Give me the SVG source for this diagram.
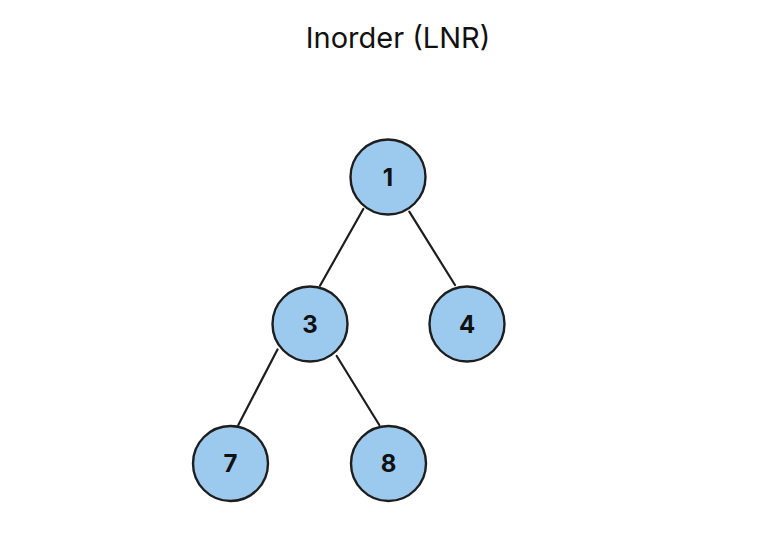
<svg xmlns="http://www.w3.org/2000/svg" width="767" height="543" viewBox="0 0 767 543">
<style>
.node circle{fill:#9ccaef;stroke:#1e1e1e;stroke-width:2.4}
.node text{font-family:Inter,"Liberation Sans",sans-serif;font-weight:700;font-size:24px;fill:#111;text-anchor:middle;dominant-baseline:central}
.edges line{stroke:#1e1e1e;stroke-width:2.2;stroke-linecap:round}
.title{font-family:Inter,"Liberation Sans",sans-serif;font-size:29px;fill:#111;text-anchor:middle}
</style>
<rect width="767" height="543" fill="#fff"/>
<text class="title" x="398" y="47.5">Inorder (LNR)</text>
<g class="edges">
<line x1="363.3" y1="209" x2="320" y2="285.7"/>
<line x1="409.3" y1="211.7" x2="455" y2="285"/>
<line x1="277.5" y1="349.5" x2="238.3" y2="425"/>
<line x1="336.7" y1="356" x2="379.3" y2="425"/>
</g>
<g id="n1" class="node"><circle cx="388" cy="177" r="37.5"/><text x="388" y="177">1</text></g>
<g id="n3" class="node"><circle cx="310" cy="324" r="37.5"/><text x="310" y="324">3</text></g>
<g id="n4" class="node"><circle cx="467" cy="324" r="37.5"/><text x="467" y="324">4</text></g>
<g id="n7" class="node"><circle cx="230.5" cy="463.5" r="37.5"/><text x="230.5" y="463.5">7</text></g>
<g id="n8" class="node"><circle cx="388.5" cy="463.5" r="37.5"/><text x="388.5" y="463.5">8</text></g>
</svg>
